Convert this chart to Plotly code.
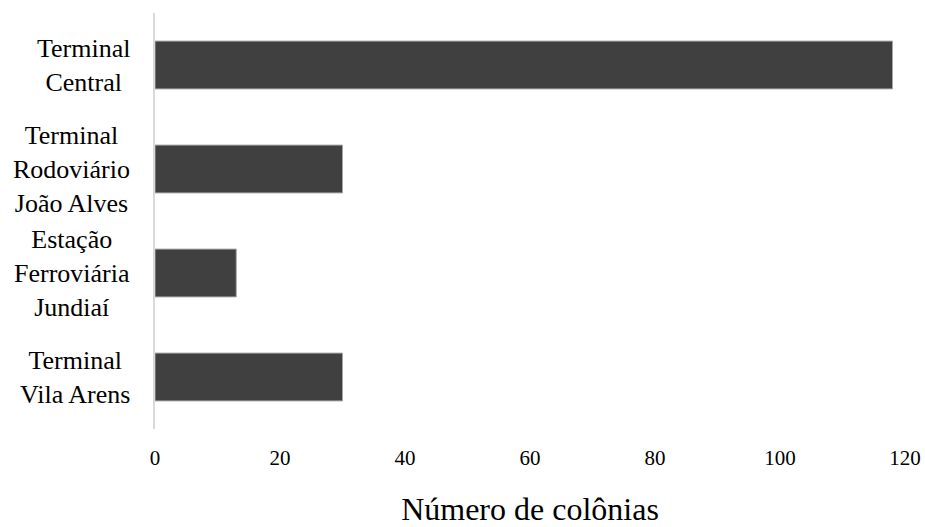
import plotly.graph_objects as go

# Number of colonies per collection site
sites = [
    "Terminal<br>Central",
    "Terminal<br>Rodoviário<br>João Alves",
    "Estação<br>Ferroviária<br>Jundiaí",
    "Terminal<br>Vila Arens",
]
colonies = [118, 30, 13, 30]
x_ticks = [0, 20, 40, 60, 80, 100, 120]
x_title = "Número de colônias"

FONT = "Liberation Serif, Times New Roman, serif"

fig = go.Figure(
    go.Bar(
        x=colonies,
        y=sites,
        orientation="h",
        marker=dict(color="#404040", line=dict(color="#a6a6a6", width=1)),
        width=0.46,
        hoverinfo="x+y",
    )
)

# Category labels: centered multi-line blocks to the left of the axis
for s in sites:
    fig.add_annotation(
        x=-0.031, xref="paper", xanchor="right",
        y=s, yref="y", yanchor="middle",
        text=s, showarrow=False, align="center",
        font=dict(family=FONT, size=26, color="#000000"),
    )

fig.update_layout(
    width=925, height=527,
    margin=dict(l=155, r=20, t=13, b=98),
    paper_bgcolor="white", plot_bgcolor="white",
    showlegend=False,
    font=dict(family=FONT, color="#000000"),
    xaxis=dict(
        range=[0, 120], tickvals=x_ticks, showgrid=False, zeroline=False,
        showline=False, ticks="outside", ticklen=10, tickcolor="rgba(0,0,0,0)",
        tickfont=dict(family=FONT, size=21, color="#000000"),
        title=dict(text=x_title, font=dict(family=FONT, size=32, color="#000000"), standoff=28),
        automargin=False,
    ),
    yaxis=dict(
        categoryorder="array", categoryarray=sites, autorange="reversed",
        showticklabels=False, showgrid=False, zeroline=False,
        showline=True, linecolor="#d9d9d9", linewidth=2, ticks="",
        automargin=False,
    ),
)

fig.write_html("out.html")
